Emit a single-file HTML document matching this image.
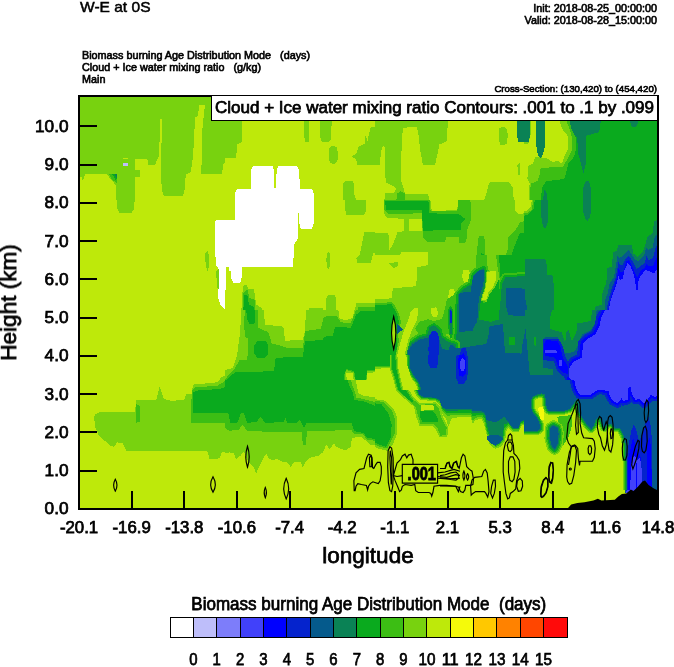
<!DOCTYPE html>
<html><head><meta charset="utf-8"><title>W-E at 0S</title>
<style>
html,body{margin:0;padding:0;background:#fff;}
body{width:674px;height:667px;overflow:hidden;}
svg{display:block;font-family:"Liberation Sans",sans-serif;fill:#000;}
text{stroke:#000;stroke-width:0.75px;filter:url(#gs);}
text.s{stroke-width:0.62px;}
</style></head><body>
<svg width="674" height="667" viewBox="0 0 674 667">
<defs>
<filter id="gs" x="-5%" y="-20%" width="110%" height="140%"><feColorMatrix type="saturate" values="0"/></filter>
<clipPath id="plot"><rect x="79" y="96" width="579" height="413"/></clipPath>
<clipPath id="t1"><rect x="75.0" y="90.0" width="150.0" height="110.0"/></clipPath>
<clipPath id="t2"><rect x="225.0" y="90.0" width="150.0" height="110.0"/></clipPath>
<clipPath id="t3"><rect x="375.0" y="90.0" width="150.0" height="110.0"/></clipPath>
<clipPath id="t4"><rect x="524.0" y="90.0" width="150.0" height="110.0"/></clipPath>
<clipPath id="t5"><rect x="75.0" y="200.0" width="150.0" height="110.0"/></clipPath>
<clipPath id="t6"><rect x="225.0" y="200.0" width="150.0" height="110.0"/></clipPath>
<clipPath id="t7"><rect x="375.0" y="200.0" width="150.0" height="110.0"/></clipPath>
<clipPath id="t8"><rect x="524.0" y="200.0" width="150.0" height="110.0"/></clipPath>
<clipPath id="t9"><rect x="75.0" y="310.0" width="150.0" height="110.0"/></clipPath>
<clipPath id="t10"><rect x="225.0" y="310.0" width="150.0" height="110.0"/></clipPath>
<clipPath id="t11"><rect x="375.0" y="310.0" width="150.0" height="110.0"/></clipPath>
<clipPath id="t12"><rect x="524.0" y="310.0" width="150.0" height="110.0"/></clipPath>
<clipPath id="t13"><rect x="75.0" y="420.0" width="150.0" height="110.0"/></clipPath>
<clipPath id="t14"><rect x="225.0" y="420.0" width="150.0" height="110.0"/></clipPath>
<clipPath id="t15"><rect x="375.0" y="420.0" width="150.0" height="110.0"/></clipPath>
<clipPath id="t16"><rect x="524.0" y="420.0" width="150.0" height="110.0"/></clipPath>
<clipPath id="t17"><rect x="225.0" y="380.0" width="150.0" height="110.0"/></clipPath>
<clipPath id="t18"><rect x="375.0" y="380.0" width="150.0" height="110.0"/></clipPath>
<clipPath id="t19"><rect x="524.0" y="380.0" width="150.0" height="110.0"/></clipPath>
<clipPath id="t20"><rect x="375.0" y="255.0" width="150.0" height="110.0"/></clipPath>
<clipPath id="t21"><rect x="375.0" y="355.0" width="150.0" height="35.0"/></clipPath>
<clipPath id="t22"><rect x="75.0" y="365.0" width="150.0" height="110.0"/></clipPath>
<clipPath id="t23"><rect x="515.0" y="320.0" width="20.0" height="60.0"/></clipPath>
</defs>
<rect width="674" height="667" fill="#fff"/>
<g clip-path="url(#plot)" shape-rendering="crispEdges">
<g clip-path="url(#t1)">
<rect x="75.0" y="90.0" width="151.0" height="111.0" fill="#bee90a"/>
<polygon points="68.3,83.3 231.7,83.3 231.7,159.0 223.7,163.4 221.9,173.5 201.4,173.5 201.9,134.5 204.1,112.3 205.2,104.5 199.6,104.5 197.4,116.7 195.2,116.7 193.0,156.8 190.7,172.3 185.6,174.6 185.2,187.9 182.9,196.4 164.0,196.4 161.8,190.1 160.7,165.7 161.8,134.5 161.8,118.9 160.0,118.9 159.6,141.2 158.5,156.8 155.1,164.6 148.4,164.6 147.3,159.4 135.1,159.4 135.1,170.1 139.5,170.1 139.5,176.8 135.1,176.8 135.1,206.6 116.2,206.6 116.2,185.7 106.2,173.5 85.0,174.1 82.8,181.7 81.7,176.8 68.3,176.8" fill="#78d20f"/>
<polygon points="108.4,173.5 117.3,173.5 116.8,183.5 111.7,179.0" fill="#3cbe14"/>
<polygon points="111.7,173.5 116.8,173.5 116.4,181.2" fill="#0aaa1e"/>
<polygon points="113.9,173.5 116.8,173.5 116.6,177.9" fill="#0a8255"/>
<polygon points="122.8,162.8 128.0,162.8 128.0,165.9 122.8,165.9" fill="#bebefa"/>
<polygon points="122.8,157.9 128.0,157.9 128.0,158.8 122.8,158.8" fill="#bee90a"/>
</g>
<g clip-path="url(#t2)">
<rect x="225.0" y="90.0" width="151.0" height="111.0" fill="#bee90a"/>
<polygon points="218.3,83.3 241.7,83.3 241.7,142.3 237.2,144.5 236.1,157.9 218.3,157.9" fill="#78d20f"/>
<polygon points="303.3,112.3 309.6,112.3 309.1,142.3 304.7,142.3" fill="#78d20f"/>
<polygon points="319.6,112.3 332.3,112.3 330.7,140.1 328.5,142.3 321.8,142.3 319.6,134.5" fill="#78d20f"/>
<polygon points="328.5,149.0 331.8,145.6 336.3,146.8 338.1,152.3 337.4,161.2 335.2,163.9 330.7,163.4 328.5,159.0" fill="#78d20f"/>
<polygon points="381.7,126.7 370.8,126.7 367.4,141.2 365.7,134.5 364.8,143.4 358.5,146.8 356.3,153.4 351.4,156.8 356.3,159.0 356.8,164.6 381.7,164.6" fill="#78d20f"/>
<polygon points="343.0,206.6 343.0,183.5 346.3,180.8 352.3,180.8 354.1,183.5 354.5,194.6 358.5,206.6" fill="#78d20f"/>
<polygon points="235.0,206.6 235.0,192.4 237.2,189.0 251.3,189.0 251.3,169.0 252.8,166.3 272.8,166.3 274.0,170.1 274.4,187.9 276.2,187.9 276.6,170.1 278.0,166.3 297.3,166.3 298.9,170.1 300.2,189.0 311.8,189.0 314.0,193.5 314.0,206.6" fill="#ffffff"/>
</g>
<g clip-path="url(#t3)">
<rect x="375.0" y="90.0" width="151.0" height="111.0" fill="#bee90a"/>
<polygon points="368.3,83.3 448.0,83.3 448.0,120.7 446.7,141.2 439.5,144.5 436.9,156.8 435.1,164.6 422.8,164.6 420.6,152.3 418.4,134.5 416.8,126.7 402.8,127.8 401.7,145.6 400.6,179.0 403.5,187.9 405.0,193.5 428.4,194.2 429.5,206.6 383.9,206.6 385.0,193.5 395.0,192.4 396.1,187.9 386.1,182.4 385.0,174.6 385.2,147.9 383.9,145.6 381.7,148.3 380.6,156.8 379.5,164.6 368.3,164.6" fill="#78d20f"/>
<polygon points="498.5,128.9 501.9,126.7 506.3,127.8 507.9,134.5 506.8,143.4 504.1,145.6 500.1,144.5 498.5,139.0" fill="#78d20f"/>
<polygon points="481.8,206.6 486.3,193.5 488.5,184.6 490.7,181.7 508.5,181.7 513.0,187.9 514.1,206.6" fill="#78d20f"/>
<polygon points="517.4,164.6 519.7,163.4 520.1,174.6 517.9,175.7" fill="#78d20f"/>
<polygon points="396.1,206.6 396.8,193.5 400.6,191.3 405.0,193.5 405.7,206.6" fill="#3cbe14"/>
<polygon points="516.5,112.3 531.7,112.3 531.7,142.3 518.5,142.3 516.5,134.5" fill="#0a8255"/>
</g>
<g clip-path="url(#t4)">
<rect x="524.0" y="90.0" width="151.0" height="111.0" fill="#0aaa1e"/>
<polygon points="517.3,83.3 569.6,83.3 569.6,120.7 571.8,128.9 575.6,136.7 576.3,147.9 574.1,156.8 568.5,163.4 566.3,172.3 564.1,179.0 546.3,181.2 541.8,187.9 540.7,206.6 517.3,206.6" fill="#3cbe14"/>
<polygon points="517.3,83.3 566.3,83.3 566.3,120.7 569.6,128.9 571.8,136.7 571.8,150.1 567.4,159.0 562.9,166.8 540.7,167.9 539.6,174.6 537.4,181.2 530.7,183.5 529.6,206.6 517.3,206.6" fill="#78d20f"/>
<polygon points="530.7,112.3 559.6,112.3 559.6,122.3 562.9,130.1 567.4,134.5 568.5,147.9 565.2,154.5 561.8,163.4 557.4,160.8 552.9,162.3 546.3,157.9 535.1,156.8 532.9,163.4 528.5,165.7 527.3,179.0 529.6,183.5 528.5,206.6 517.3,206.6 517.3,145.6 528.5,143.4 530.7,134.5" fill="#bee90a"/>
<polygon points="517.3,112.3 530.2,112.3 530.2,134.5 528.5,142.3 517.3,142.3" fill="#0a8255"/>
<polygon points="535.6,112.3 545.1,112.3 544.7,147.9 541.8,156.8 540.0,157.9 537.8,154.5 536.2,145.6" fill="#0a8255"/>
<polygon points="569.6,112.3 600.8,112.3 600.8,120.7 599.2,132.3 586.3,135.6 585.9,163.4 583.6,173.5 581.4,165.7 578.5,154.5 577.0,137.8 574.1,134.5 570.7,127.8" fill="#0a8255"/>
<polygon points="629.7,112.3 638.6,112.3 638.6,120.7 636.4,126.7 631.9,126.7 629.7,120.7" fill="#0a8255"/>
<polygon points="582.3,206.6 583.0,187.9 585.9,181.2 589.0,180.8 590.8,187.9 591.9,206.6" fill="#0a8255"/>
<polygon points="541.8,206.6 544.5,190.1 546.3,191.3 548.5,206.6" fill="#0a8255"/>
</g>
<g clip-path="url(#t5)">
<rect x="75.0" y="200.0" width="151.0" height="111.0" fill="#bee90a"/>
<polygon points="116.2,193.3 135.1,193.3 134.0,208.9 131.8,212.7 119.5,212.7 117.3,208.9" fill="#78d20f"/>
<polygon points="205.2,253.4 207.4,250.7 209.2,255.6 209.2,266.8 207.4,270.8 205.6,264.5" fill="#78d20f"/>
<polygon points="216.3,271.2 218.5,269.4 218.5,289.0 216.8,286.8" fill="#78d20f"/>
<polygon points="215.2,221.1 217.4,219.6 231.7,219.6 231.7,316.6 220.8,305.7 218.1,297.9 218.5,289.0 218.5,269.0 215.7,264.5 215.2,244.5" fill="#ffffff"/>
</g>
<g clip-path="url(#t6)">
<rect x="225.0" y="200.0" width="151.0" height="111.0" fill="#bee90a"/>
<polygon points="345.2,193.3 366.3,193.3 366.3,210.0 364.1,214.5 346.3,214.5 345.2,208.9" fill="#78d20f"/>
<polygon points="364.1,232.3 381.7,232.3 381.7,249.0 373.0,253.4 370.8,263.4 357.4,263.4 356.3,257.9 359.6,254.5 361.9,244.5" fill="#78d20f"/>
<polygon points="326.3,259.0 327.8,251.2 329.6,253.4 329.6,266.8 328.0,269.4 326.7,264.5" fill="#78d20f"/>
<polygon points="325.1,316.6 326.3,297.9 328.5,295.3 335.2,295.3 336.3,300.1 335.8,316.6" fill="#78d20f"/>
<polygon points="353.0,316.6 356.3,303.5 381.7,302.8 381.7,316.6" fill="#78d20f"/>
<polygon points="357.4,316.6 358.5,306.8 381.7,306.4 381.7,316.6" fill="#3cbe14"/>
<polygon points="241.0,316.6 242.8,286.8 246.1,284.1 248.4,289.0 253.9,289.0 256.2,304.6 261.7,307.9 261.7,316.6" fill="#78d20f"/>
<polygon points="242.4,316.6 243.2,293.5 247.3,289.0 249.5,297.9 255.0,300.1 255.7,316.6" fill="#3cbe14"/>
<polygon points="243.2,316.6 243.9,295.7 247.3,294.6 249.0,304.6 253.9,306.8 253.9,316.6" fill="#0aaa1e"/>
<polygon points="307.3,316.6 309.6,307.9 322.9,307.9 325.1,316.6" fill="#78d20f"/>
<polygon points="218.3,219.6 235.0,219.6 235.0,193.3 314.0,193.3 314.0,222.3 311.8,228.5 300.7,228.5 298.9,222.3 298.4,210.0 298.0,237.8 294.4,244.5 292.9,266.8 241.7,266.8 241.7,277.9 240.1,282.8 233.5,282.8 231.2,277.9 231.2,271.2 229.0,270.8 229.0,266.8 226.1,266.8 226.1,289.0 218.3,304.6" fill="#ffffff"/>
</g>
<g clip-path="url(#t7)">
<rect x="375.0" y="200.0" width="151.0" height="111.0" fill="#78d20f"/>
<polygon points="368.3,193.3 383.9,193.3 383.9,213.4 387.2,217.8 403.9,218.9 403.9,231.2 397.3,232.3 393.9,242.3 389.5,250.1 388.4,233.4 368.3,232.3" fill="#bee90a"/>
<polygon points="408.8,218.9 421.7,218.9 421.7,231.2 408.8,231.2" fill="#bee90a"/>
<polygon points="429.5,193.3 458.5,193.3 457.3,210.0 431.8,211.1" fill="#bee90a"/>
<polygon points="514.1,193.3 531.7,193.3 531.7,211.1 519.7,214.5 515.2,211.1" fill="#bee90a"/>
<polygon points="401.7,251.6 427.3,251.6 428.9,255.6 428.4,266.8 417.3,269.4 416.2,287.2 392.8,289.0 391.7,299.0 368.3,300.1 368.3,263.4 388.4,263.4 393.9,269.4 398.4,266.8 399.9,255.6" fill="#bee90a"/>
<polygon points="462.9,271.2 468.5,270.1 470.7,275.7 469.6,282.3 464.0,283.5 462.2,277.9" fill="#bee90a"/>
<polygon points="449.6,290.1 454.0,289.0 455.6,295.7 454.0,304.6 449.6,306.8 448.0,297.9" fill="#bee90a"/>
<polygon points="486.3,271.2 496.3,270.8 497.0,280.1 493.0,289.0 488.5,293.5 486.3,301.3 479.6,302.4 478.5,295.7 484.1,292.4 485.2,284.6" fill="#bee90a"/>
<polygon points="415.1,307.9 418.4,307.9 418.4,316.6 415.1,316.6" fill="#bee90a"/>
<polygon points="433.3,307.5 437.3,307.5 437.8,316.6 433.3,316.6" fill="#bee90a"/>
<polygon points="383.9,193.3 429.5,193.3 430.6,211.1 457.3,210.7 459.1,193.3 468.5,193.3 471.1,204.5 471.1,220.0 467.4,228.9 466.2,242.3 459.6,243.4 458.5,236.7 446.2,236.7 445.1,242.3 428.4,242.3 422.8,237.8 422.2,217.8 421.7,213.4 388.4,213.8 384.3,210.0" fill="#3cbe14"/>
<polygon points="477.8,238.9 479.6,235.6 484.1,236.1 485.2,244.5 485.2,266.8 484.1,284.6 479.6,293.5 477.8,302.4 477.4,316.6 456.2,316.6 456.2,289.0 457.8,275.7 464.0,284.6 470.7,275.7 471.8,260.1 476.3,259.0 477.4,249.0" fill="#3cbe14"/>
<polygon points="531.7,218.9 519.7,222.3 516.3,228.9 508.5,236.7 507.4,251.2 504.1,259.0 499.6,260.1 498.5,273.4 497.0,289.0 490.7,293.5 487.4,316.6 531.7,316.6" fill="#3cbe14"/>
<polygon points="390.6,316.6 392.8,300.1 397.3,299.0 399.0,316.6" fill="#3cbe14"/>
<polygon points="444.0,316.6 445.8,297.9 448.4,304.6 451.8,316.6" fill="#3cbe14"/>
<polygon points="385.0,201.1 428.4,201.1 429.5,213.4 458.5,213.8 460.7,215.6 465.1,218.9 460.7,224.5 460.7,230.0 422.8,230.7 422.2,210.0 386.1,210.0" fill="#0aaa1e"/>
<polygon points="477.8,264.5 481.4,253.4 484.1,254.5 484.5,273.4 482.9,286.8 479.2,295.7 477.8,316.6 457.3,316.6 457.8,286.8 460.7,285.7 464.0,289.0 469.6,287.9 471.1,277.9 472.9,266.8" fill="#0aaa1e"/>
<polygon points="531.7,232.3 519.7,233.4 515.2,244.5 511.9,253.4 508.5,264.5 503.0,266.8 501.9,277.9 500.7,289.0 495.2,294.6 490.7,316.6 531.7,316.6" fill="#0aaa1e"/>
<polygon points="479.2,264.5 483.6,263.4 484.1,273.4 481.8,289.0 478.5,297.9 477.8,316.6 457.8,316.6 458.5,289.0 462.9,291.2 470.7,290.1 472.9,275.7 476.3,269.0" fill="#0a8255"/>
<polygon points="531.7,275.7 513.0,275.7 506.3,281.2 501.9,289.0 500.7,316.6 531.7,316.6" fill="#0a8255"/>
<polygon points="480.7,271.2 483.6,271.2 482.9,286.8 479.2,297.9 477.8,316.6 457.8,316.6 458.5,294.6 470.7,293.5 474.0,277.9 477.4,273.4" fill="#055a8c"/>
<polygon points="531.7,289.0 508.5,289.0 505.9,295.7 505.2,316.6 531.7,316.6" fill="#055a8c"/>
</g>
<g clip-path="url(#t8)">
<rect x="524.0" y="200.0" width="151.0" height="111.0" fill="#0aaa1e"/>
<polygon points="517.3,193.3 535.1,193.3 534.0,208.9 528.5,214.5 517.3,217.8" fill="#3cbe14"/>
<polygon points="517.3,193.3 534.0,193.3 531.8,210.0 526.2,213.4 517.3,213.4" fill="#78d20f"/>
<polygon points="517.3,193.3 532.9,193.3 530.7,206.7 526.2,211.1 517.3,211.1" fill="#bee90a"/>
<polygon points="540.7,193.3 548.5,193.3 548.0,222.3 545.1,228.9 542.9,226.7 541.4,217.8" fill="#0a8255"/>
<polygon points="582.3,193.3 591.9,193.3 590.3,216.7 587.4,221.1 585.2,218.9 583.0,211.1" fill="#0a8255"/>
<polygon points="517.3,259.0 545.1,259.0 547.4,266.8 547.4,274.6 552.9,275.7 554.0,289.0 554.0,316.6 517.3,316.6" fill="#0a8255"/>
<polygon points="517.3,295.7 526.2,300.1 527.3,316.6 517.3,316.6" fill="#055a8c"/>
<polygon points="657.1,220.0 654.2,221.1 652.6,233.4 647.5,236.7 645.3,244.5 643.1,251.2 637.5,256.8 633.1,253.4 631.9,244.5 618.6,244.5 616.4,251.2 613.0,252.3 611.9,266.8 607.5,267.9 606.3,282.3 602.3,293.5 601.9,304.6 595.2,306.8 594.1,316.6 657.1,316.6" fill="#0a8255"/>
<polygon points="657.1,233.4 654.2,238.9 652.6,247.8 648.2,250.1 646.0,247.8 644.2,255.6 638.6,261.2 635.3,260.1 631.9,254.5 628.6,250.1 625.3,253.4 623.0,255.6 619.7,257.9 617.5,255.6 615.7,266.8 614.1,276.8 609.7,283.5 607.5,293.5 605.2,300.1 604.1,316.6 657.1,316.6" fill="#055a8c"/>
<polygon points="657.1,244.5 655.3,249.0 653.1,257.9 648.6,260.1 646.0,255.6 645.3,262.3 639.7,266.8 636.4,269.0 633.1,262.3 628.6,255.6 625.3,259.0 623.0,264.5 619.7,264.5 618.6,261.2 617.0,271.2 615.2,279.0 611.9,287.9 609.7,295.7 607.5,304.6 606.8,316.6 657.1,316.6" fill="#0523cd"/>
<polygon points="657.1,256.8 654.9,261.2 653.1,265.7 648.6,265.7 646.0,263.4 645.3,266.8 640.2,271.7 637.1,277.9 633.5,269.0 629.0,260.1 626.4,261.2 623.7,271.2 620.1,272.3 618.8,267.9 617.0,277.9 614.1,286.8 611.2,295.7 608.6,306.8 608.1,316.6 657.1,316.6" fill="#0000ff"/>
<polygon points="657.1,269.0 654.2,273.4 649.7,271.2 645.3,270.1 640.8,275.7 638.6,280.1 637.1,293.5 634.2,275.7 630.4,265.7 627.5,263.4 624.1,271.2 623.0,279.0 619.7,280.1 618.6,275.7 616.4,284.6 613.0,293.5 609.7,303.5 608.6,316.6 657.1,316.6" fill="#4141fa"/>
</g>
<g clip-path="url(#t9)">
<rect x="75.0" y="310.0" width="151.0" height="111.0" fill="#bee90a"/>
<polygon points="93.9,426.6 94.6,414.6 100.6,411.9 135.1,411.9 136.2,400.1 156.2,400.1 159.6,386.8 164.0,399.0 170.7,400.8 184.1,400.1 186.3,394.1 191.8,394.1 193.0,384.6 217.4,382.3 221.9,376.8 231.7,372.3 231.7,426.6" fill="#78d20f"/>
<polygon points="190.3,426.6 191.2,407.9 191.8,391.2 195.2,387.4 217.4,385.7 231.7,376.8 231.7,426.6" fill="#3cbe14"/>
<polygon points="193.0,412.8 193.0,392.3 196.3,390.6 219.7,389.0 231.7,384.6 231.7,412.8" fill="#0aaa1e"/>
</g>
<g clip-path="url(#t10)">
<rect x="225.0" y="310.0" width="151.0" height="111.0" fill="#78d20f"/>
<polygon points="218.3,303.3 241.7,303.3 240.1,332.3 237.2,354.5 232.8,367.9 218.3,372.3" fill="#bee90a"/>
<polygon points="262.8,303.3 306.2,303.3 305.1,330.0 302.9,340.0 285.1,340.7 283.3,326.7 265.1,324.5" fill="#bee90a"/>
<polygon points="337.4,303.3 355.2,303.3 353.0,317.8 346.3,320.0 339.6,318.9" fill="#bee90a"/>
<polygon points="346.3,373.4 353.0,373.4 354.1,385.7 351.9,389.0 347.0,386.8" fill="#bee90a"/>
<polygon points="367.4,373.4 381.7,371.2 381.7,396.8 367.4,395.7 355.2,392.3 356.3,390.1 365.2,385.7 367.4,381.2" fill="#bee90a"/>
<polygon points="218.3,386.8 227.2,376.8 233.9,370.1 239.5,360.1 247.3,360.1 248.4,338.9 245.0,336.7 243.9,321.1 246.1,303.3 257.3,303.3 258.4,327.8 268.4,332.3 271.7,343.4 284.0,346.7 286.2,347.8 302.9,347.8 305.1,331.1 320.7,328.9 324.0,316.7 336.3,315.6 340.7,322.2 350.7,323.4 355.2,312.2 358.5,303.3 381.7,303.3 381.7,370.1 367.4,371.2 366.3,381.2 363.0,384.6 355.2,384.6 354.1,372.3 346.3,370.1 344.7,374.5 345.2,386.8 351.9,391.2 354.1,397.9 371.9,402.4 381.7,407.9 381.7,426.6 218.3,426.6" fill="#3cbe14"/>
<polygon points="218.3,426.6 218.3,387.9 228.3,377.9 235.0,372.3 274.0,371.2 275.7,357.8 302.9,356.7 305.1,341.2 322.9,340.0 324.0,336.7 332.9,335.6 335.2,326.7 350.7,327.8 356.3,314.5 360.8,311.1 381.7,311.1 381.7,369.0 367.4,370.1 365.2,381.2 356.3,383.4 354.1,371.2 346.3,369.0 344.1,375.7 344.5,387.9 351.9,392.3 354.1,399.0 371.9,403.5 381.7,409.0 381.7,426.6" fill="#0aaa1e"/>
<polygon points="246.1,303.3 255.0,303.3 255.0,323.4 249.5,324.5 246.8,318.9" fill="#0aaa1e"/>
<polygon points="253.9,345.6 257.3,341.2 266.2,341.2 268.4,345.6 268.4,353.4 265.1,357.8 257.3,357.8 253.9,353.4" fill="#0aaa1e"/>
<polygon points="238.4,426.6 241.7,412.8 246.1,413.5 247.3,426.6" fill="#3cbe14"/>
<polygon points="258.4,426.6 260.6,416.8 265.1,426.6" fill="#3cbe14"/>
</g>
<g clip-path="url(#t11)">
<rect x="375.0" y="310.0" width="151.0" height="111.0" fill="#055a8c"/>
<polygon points="437.3,303.3 531.7,303.3 531.7,354.5 519.7,355.6 514.1,352.3 506.3,347.8 504.1,332.3 503.0,324.5 490.7,324.5 489.6,338.9 486.3,341.2 462.9,341.2 460.7,346.7 455.1,352.3 441.8,353.4 438.4,345.6 438.4,332.3 435.1,327.8 430.6,328.9 428.4,332.3 417.3,334.5 410.6,341.2 408.4,350.1 401.7,350.1 401.7,303.3" fill="#0a8255"/>
<polygon points="458.5,303.3 472.9,303.3 471.8,322.2 459.6,324.5" fill="#055a8c"/>
<polygon points="506.3,303.3 531.7,303.3 531.7,315.6 508.5,315.6" fill="#055a8c"/>
<polygon points="417.3,323.4 419.5,318.9 428.4,321.1 432.9,325.6 439.5,326.7 446.2,321.1 450.7,303.3 458.5,303.3 458.5,323.4 457.3,336.7 451.8,337.8 449.6,332.3 441.8,332.3 439.5,330.0 435.1,327.4 429.5,328.2 427.3,332.3 417.3,333.4 415.1,330.0" fill="#0aaa1e"/>
<polygon points="507.4,336.7 515.2,336.7 515.2,345.6 507.4,345.6" fill="#0aaa1e"/>
<polygon points="368.3,303.3 402.8,303.3 400.6,323.4 398.4,332.3 403.9,334.5 405.0,343.4 398.4,347.8 397.3,354.5 400.6,363.4 403.9,376.8 405.0,390.1 401.7,395.7 396.1,385.7 391.7,370.1 368.3,366.8" fill="#0aaa1e"/>
<polygon points="400.6,303.3 422.8,303.3 421.7,322.2 417.3,332.3 415.1,342.3 412.8,348.9 411.7,356.7 413.9,367.9 417.3,383.4 420.6,396.8 441.8,397.9 445.1,410.1 531.7,410.6 531.7,426.6 368.3,426.6 368.3,366.8 391.7,370.1 397.3,354.5 399.5,334.5 397.3,330.0 398.4,318.9" fill="#0aaa1e"/>
<polygon points="401.7,303.3 420.6,303.3 419.5,321.6 415.1,331.8 412.8,341.6 410.6,348.3 409.5,356.7 411.7,367.9 415.1,383.4 418.4,397.9 439.5,399.0 442.9,411.3 486.3,411.7 486.3,426.6 368.3,426.6 368.3,368.3 391.7,371.2 397.3,351.2 401.7,345.6 402.2,332.3 399.0,330.0 399.9,318.9" fill="#3cbe14"/>
<polygon points="403.9,303.3 418.8,303.3 417.7,321.1 413.3,331.4 411.1,341.2 408.8,347.8 407.7,356.7 409.9,367.9 413.3,383.4 416.6,397.2 437.3,398.6 440.7,409.0 441.8,412.4 485.2,412.8 485.2,426.6 368.3,426.6 368.3,370.1 391.0,372.3 397.3,350.5 402.8,345.6 403.5,333.4 400.4,330.0 401.3,318.9" fill="#78d20f"/>
<polygon points="406.2,303.3 417.3,303.3 416.2,321.1 411.7,331.1 409.5,341.2 407.3,347.8 406.2,356.7 408.4,367.9 411.7,383.4 415.1,396.8 412.8,403.5 411.7,426.6 368.3,426.6 368.3,372.3 390.6,372.3 395.0,385.7 399.5,396.8 405.0,394.6 406.2,385.7 402.8,372.3 398.4,359.0 397.3,350.1 403.9,345.6 405.0,334.5 401.7,330.0 402.8,318.9" fill="#bee90a"/>
<polygon points="419.5,400.1 435.1,399.5 437.3,405.7 440.0,409.0 440.0,426.6 419.5,426.6" fill="#bee90a"/>
<polygon points="441.8,414.2 484.1,414.2 484.1,426.6 441.8,426.6" fill="#bee90a"/>
<polygon points="410.6,407.9 413.9,399.0 419.5,397.9 419.5,405.7 417.3,412.4 412.8,412.4" fill="#0aaa1e"/>
<polygon points="486.3,412.4 531.7,411.9 531.7,426.6 486.3,426.6" fill="#0a8255"/>
<polygon points="428.4,338.9 430.6,332.3 436.2,332.3 438.4,338.9 438.4,363.4 436.2,368.3 430.6,368.3 428.4,361.2" fill="#0523cd"/>
<polygon points="455.6,359.0 458.5,351.2 462.9,347.8 466.2,351.2 468.0,359.0 467.4,379.0 464.0,383.4 458.5,383.4 455.6,376.8" fill="#0523cd"/>
<polygon points="457.8,361.2 460.0,354.5 463.6,353.4 466.2,360.1 465.8,373.4 462.9,376.8 459.1,375.7" fill="#0000ff"/>
<polygon points="459.6,362.3 461.8,357.8 464.5,359.0 465.1,366.8 463.6,371.2 460.7,370.5" fill="#4141fa"/>
<polygon points="449.1,313.3 451.8,311.1 452.9,318.9 451.8,324.5 449.6,322.2" fill="#0523cd"/>
<polygon points="397.3,323.4 402.8,330.0 397.3,333.4" fill="#055a8c"/>
</g>
<g clip-path="url(#t12)">
<rect x="524.0" y="310.0" width="151.0" height="111.0" fill="#055a8c"/>
<polygon points="517.3,303.3 597.4,303.3 595.2,323.4 590.8,330.0 581.9,334.5 578.5,343.4 575.2,351.2 568.5,353.4 564.1,352.3 560.7,343.4 557.4,336.7 545.1,336.7 542.9,343.4 542.9,367.9 552.9,369.0 552.9,374.5 517.3,375.7" fill="#0a8255"/>
<polygon points="554.0,303.3 593.0,303.3 590.8,321.1 577.4,323.4 576.3,332.3 571.8,341.2 568.5,330.0 566.3,332.3 565.2,343.4 561.8,332.3 549.6,328.9 549.6,318.9" fill="#0aaa1e"/>
<polygon points="534.0,336.7 536.2,337.8 535.6,345.6 534.0,344.5" fill="#0aaa1e"/>
<polygon points="608.6,303.3 657.1,303.3 657.1,392.3 653.1,395.7 649.7,399.0 645.3,400.1 639.7,394.6 635.3,392.3 633.1,385.7 628.6,384.6 627.5,399.0 623.0,403.5 619.7,397.9 616.4,401.2 611.9,399.0 609.7,391.2 599.7,390.1 595.2,389.0 588.5,393.5 578.5,393.5 576.3,381.2 569.6,379.0 568.5,369.0 574.1,361.2 581.9,357.8 583.0,343.4 587.4,338.9 595.2,334.5 599.7,325.6 600.8,318.9" fill="#0523cd" stroke="#0523cd" stroke-width="9.79" stroke-linejoin="round"/>
<polygon points="608.6,303.3 657.1,303.3 657.1,392.3 653.1,395.7 649.7,399.0 645.3,400.1 639.7,394.6 635.3,392.3 633.1,385.7 628.6,384.6 627.5,399.0 623.0,403.5 619.7,397.9 616.4,401.2 611.9,399.0 609.7,391.2 599.7,390.1 595.2,389.0 588.5,393.5 578.5,393.5 576.3,381.2 569.6,379.0 568.5,369.0 574.1,361.2 581.9,357.8 583.0,343.4 587.4,338.9 595.2,334.5 599.7,325.6 600.8,318.9" fill="#0000ff" stroke="#0000ff" stroke-width="4.90" stroke-linejoin="round"/>
<polygon points="608.6,303.3 657.1,303.3 657.1,392.3 653.1,395.7 649.7,399.0 645.3,400.1 639.7,394.6 635.3,392.3 633.1,385.7 628.6,384.6 627.5,399.0 623.0,403.5 619.7,397.9 616.4,401.2 611.9,399.0 609.7,391.2 599.7,390.1 595.2,389.0 588.5,393.5 578.5,393.5 576.3,381.2 569.6,379.0 568.5,369.0 574.1,361.2 581.9,357.8 583.0,343.4 587.4,338.9 595.2,334.5 599.7,325.6 600.8,318.9" fill="#4141fa"/>
<polygon points="542.9,338.9 558.5,338.9 562.9,346.7 565.2,356.7 568.5,363.4 568.5,376.8 561.8,375.7 557.4,371.2 554.0,361.2 542.9,360.1" fill="#0523cd"/>
<polygon points="544.0,343.4 546.3,340.0 557.4,341.2 560.7,347.8 562.9,357.8 567.4,365.6 568.5,374.5 562.9,372.3 558.5,367.9 555.2,357.8 545.1,355.6 543.6,350.1" fill="#0000ff"/>
<polygon points="545.1,350.1 556.3,350.1 557.4,353.4 545.1,353.4" fill="#4141fa"/>
<polygon points="558.5,360.1 561.8,360.1 561.8,365.6 559.2,365.6" fill="#4141fa"/>
<polygon points="657.1,396.8 657.1,426.6 617.5,426.6 618.6,407.9 621.9,405.7 628.6,403.5 630.8,390.1 635.3,394.6 645.3,402.4 652.0,401.2" fill="#0523cd"/>
<polygon points="528.5,403.5 532.9,394.6 544.0,393.5 547.4,399.0 548.5,407.9 552.9,411.3 571.8,410.1 573.0,426.6 530.7,426.6" fill="#0aaa1e"/>
<polygon points="530.2,404.6 533.6,396.4 542.9,395.0 546.3,399.0 547.4,407.9 551.2,412.8 555.2,412.4 571.8,411.3 571.8,426.6 532.9,426.6 531.1,412.4" fill="#78d20f"/>
<polygon points="530.7,403.5 534.0,396.8 541.8,395.7 545.1,399.0 546.3,407.9 548.5,413.5 552.9,426.6 535.1,426.6 531.8,412.4" fill="#bee90a"/>
<polygon points="534.0,405.7 540.7,404.6 542.9,410.1 546.3,426.6 539.6,426.6 535.1,412.4" fill="#f5fa0a"/>
</g>
<g clip-path="url(#t13)">
<rect x="75.0" y="420.0" width="151.0" height="111.0" fill="#bee90a"/>
<polygon points="93.9,413.3 231.7,413.3 231.7,451.2 221.9,452.3 219.7,457.8 217.4,458.9 209.6,458.9 207.4,451.2 126.2,450.7 122.8,443.4 117.3,442.3 113.9,446.7 110.6,445.6 103.9,440.0 98.4,434.5 95.0,426.7" fill="#78d20f"/>
<polygon points="190.7,413.3 231.7,413.3 231.7,422.7 190.7,422.7" fill="#3cbe14"/>
</g>
<g clip-path="url(#t14)">
<rect x="225.0" y="420.0" width="151.0" height="111.0" fill="#bee90a"/>
<polygon points="218.3,413.3 381.7,413.3 381.7,445.6 369.7,444.5 365.2,440.0 360.8,436.7 351.9,437.8 350.7,446.7 346.3,450.0 340.7,448.9 336.3,447.8 334.1,443.4 329.6,448.9 326.3,444.5 322.9,452.3 318.5,455.6 309.6,457.8 305.1,462.3 302.9,467.8 300.7,462.3 294.0,462.3 290.7,466.7 287.3,462.3 280.6,461.2 277.3,458.9 271.7,460.1 268.4,457.8 266.2,453.4 262.8,458.9 258.4,467.8 256.2,473.4 252.8,467.8 247.3,460.1 243.9,451.2 240.6,455.6 236.1,458.9 233.9,453.4 229.5,452.3 218.3,454.5" fill="#78d20f"/>
<polygon points="218.3,413.3 381.7,413.3 381.7,441.1 367.4,440.0 363.0,434.5 353.0,433.4 351.4,430.0 307.3,431.1 305.1,444.5 302.9,445.6 301.8,432.2 247.3,431.1 238.4,430.0 229.5,431.1 218.3,426.7" fill="#3cbe14"/>
<polygon points="218.3,413.3 228.3,413.3 227.2,423.3 218.3,422.7" fill="#0aaa1e"/>
<polygon points="231.7,413.3 298.4,413.3 298.4,422.2 287.3,422.7 286.2,425.6 284.0,422.2 265.1,422.7 258.4,424.5 238.4,422.7 233.9,423.3" fill="#0aaa1e"/>
<polygon points="298.4,413.3 381.7,413.3 381.7,439.6 367.4,438.2 363.4,432.9 354.1,431.1 351.9,423.3 298.4,423.3" fill="#0aaa1e"/>
</g>
<g clip-path="url(#t15)">
<rect x="375.0" y="420.0" width="151.0" height="111.0" fill="#bee90a"/>
<polygon points="368.3,413.3 397.3,413.3 396.1,431.1 393.9,440.0 388.4,448.9 382.8,453.4 377.2,447.8 368.3,450.0" fill="#78d20f"/>
<polygon points="368.3,413.3 394.6,413.3 393.5,431.1 390.6,440.0 386.1,446.7 382.1,451.2 377.2,444.9 368.3,447.2" fill="#3cbe14"/>
<polygon points="368.3,413.3 391.7,413.3 390.6,433.4 386.1,444.5 381.7,448.9 377.2,442.3 368.3,444.5" fill="#0aaa1e"/>
<polygon points="419.5,413.3 448.4,413.3 447.3,431.1 441.8,433.4 437.3,427.8 428.4,425.6 419.5,424.5" fill="#78d20f"/>
<polygon points="439.5,426.7 446.2,426.7 445.8,431.1 440.7,431.1" fill="#0aaa1e"/>
<polygon points="468.5,413.3 477.4,413.3 476.3,423.3 469.6,423.3" fill="#78d20f"/>
<polygon points="481.8,413.3 531.7,413.3 531.7,437.8 517.4,437.8 510.8,433.4 504.1,442.3 498.5,451.2 490.7,452.3 485.2,444.5 482.9,433.4" fill="#78d20f"/>
<polygon points="484.1,413.3 531.7,413.3 531.7,434.5 517.4,435.6 511.9,432.2 506.3,433.4 501.9,442.3 496.3,447.8 490.7,447.8 486.3,441.1 484.5,431.1" fill="#0aaa1e"/>
<polygon points="487.4,413.3 504.1,413.3 503.0,428.9 498.5,438.9 494.1,442.3 488.9,437.8 487.4,431.1" fill="#055a8c"/>
<polygon points="508.5,413.3 531.7,413.3 531.7,430.0 517.4,431.1 511.9,428.9" fill="#055a8c"/>
</g>
<g clip-path="url(#t16)">
<rect x="524.0" y="420.0" width="151.0" height="111.0" fill="#bee90a"/>
<polygon points="517.3,413.3 546.3,413.3 546.3,428.9 537.4,432.2 517.3,433.4" fill="#3cbe14"/>
<polygon points="546.3,413.3 564.1,413.3 561.8,433.4 558.5,444.5 554.0,450.0 550.7,444.5 547.4,431.1" fill="#78d20f"/>
<polygon points="550.7,413.3 560.7,413.3 558.5,433.4 555.2,442.3 552.5,433.4" fill="#055a8c"/>
<polygon points="579.6,413.3 597.4,413.3 594.8,430.0 589.7,437.8 584.1,430.0" fill="#0aaa1e"/>
<polygon points="581.9,413.3 595.2,413.3 593.0,428.9 589.7,435.6 585.2,428.9" fill="#055a8c"/>
<polygon points="594.1,413.3 624.1,413.3 621.9,433.4 616.4,428.9 613.0,435.6 609.7,426.7 606.3,433.4 601.9,426.7 598.6,431.1" fill="#0aaa1e"/>
<polygon points="595.2,413.3 621.9,413.3 619.7,431.1 616.4,426.7 613.0,433.4 609.7,424.5 606.3,431.1 601.9,424.5 598.6,428.9" fill="#055a8c"/>
<polygon points="619.7,413.3 657.1,413.3 657.1,493.4 625.3,493.4 626.4,464.5 625.3,442.3 621.9,431.1" fill="#055a8c"/>
<polygon points="627.5,433.4 630.8,428.9 635.3,435.6 639.7,442.3 644.2,453.4 648.6,442.3 650.9,433.4 653.1,437.8 653.1,493.4 625.9,493.4 626.8,453.4" fill="#0523cd"/>
<polygon points="628.6,453.4 631.9,442.3 635.3,453.4 639.7,464.5 643.1,475.6 645.3,464.5 647.5,453.4 649.7,464.5 652.0,480.1 652.0,491.2 626.4,493.4" fill="#4141fa"/>
</g>
<g clip-path="url(#t17)">
<rect x="225.0" y="380.0" width="151.0" height="111.0" fill="#bee90a"/>
<polygon points="218.3,373.3 381.7,373.3 381.7,445.7 369.7,444.5 365.2,440.1 360.8,436.8 351.9,437.9 350.7,446.8 346.3,450.1 340.7,449.0 336.3,446.8 334.1,443.4 329.6,449.0 326.3,444.5 322.9,452.3 318.5,455.7 309.6,457.9 305.1,462.3 302.9,467.9 300.7,462.3 294.0,462.3 290.7,466.8 287.3,462.3 280.6,461.2 277.3,459.0 271.7,460.1 268.4,457.9 266.2,453.4 262.8,459.0 258.4,467.9 256.2,473.5 253.9,467.9 247.3,460.1 243.9,451.2 240.6,455.7 236.1,459.0 233.9,453.4 229.5,452.3 218.3,454.6" fill="#78d20f"/>
<polygon points="218.3,373.3 381.7,373.3 381.7,441.2 367.4,440.1 363.0,434.5 353.0,433.4 351.4,430.1 307.3,431.2 305.6,444.5 302.9,445.7 301.8,432.3 247.3,431.2 242.8,424.5 238.4,430.1 229.5,430.7 218.3,424.5" fill="#3cbe14"/>
<polygon points="218.3,373.3 345.2,373.3 349.6,386.7 353.0,393.4 354.1,400.0 363.0,401.1 371.9,404.5 381.7,408.9 381.7,439.0 367.4,438.3 363.4,433.0 354.1,431.2 351.9,423.4 306.2,423.4 304.0,427.8 301.8,423.4 299.6,420.1 296.2,423.4 287.3,423.4 285.5,417.8 283.3,422.3 265.1,422.7 260.6,416.7 256.2,422.3 247.3,422.7 243.9,413.4 240.6,413.4 237.2,423.4 230.6,423.4 228.3,413.4 218.3,412.9" fill="#0aaa1e"/>
<polygon points="345.2,373.3 381.7,373.3 381.7,408.9 371.9,404.5 363.0,401.1 354.1,400.0 353.0,393.4 349.6,386.7" fill="#3cbe14"/>
<polygon points="349.6,373.3 381.7,373.3 381.7,403.4 370.8,401.1 363.0,398.9 356.3,397.8 355.2,392.2 352.3,385.6" fill="#78d20f"/>
<polygon points="354.1,373.3 381.7,373.3 381.7,397.8 369.7,396.7 363.0,395.6 358.5,393.4 357.4,388.9 356.3,383.3" fill="#bee90a"/>
</g>
<g clip-path="url(#t18)">
<rect x="375.0" y="380.0" width="151.0" height="111.0" fill="#bee90a"/>
<polygon points="368.3,398.9 383.9,400.0 393.9,408.9 397.3,417.8 397.3,433.4 392.8,444.5 388.4,451.2 379.5,449.0 368.3,444.5" fill="#78d20f"/>
<polygon points="368.3,400.5 382.8,401.8 391.7,410.0 395.0,418.9 394.6,433.4 390.6,442.3 387.2,448.5 379.9,446.8 368.3,442.3" fill="#3cbe14"/>
<polygon points="368.3,402.3 381.7,404.5 388.4,413.4 391.7,424.5 390.6,437.9 386.1,446.8 379.5,444.5 368.3,440.1" fill="#0aaa1e"/>
<polygon points="390.6,373.3 405.0,373.3 408.4,388.9 413.9,397.8 419.5,403.4 436.2,402.3 440.7,407.8 442.9,416.7 448.4,427.8 447.3,436.8 439.5,437.4 435.5,429.0 431.8,425.6 419.5,425.6 416.2,416.7 413.9,406.7 406.2,400.0 398.4,393.4 392.8,386.7" fill="#78d20f"/>
<polygon points="392.4,373.3 403.5,373.3 407.3,390.0 412.8,398.9 419.1,404.9 435.1,403.8 439.1,408.9 441.3,417.8 446.7,427.8 445.8,435.2 440.4,435.6 437.3,427.8 433.3,423.8 420.6,423.8 418.0,415.6 415.7,406.7 407.3,398.9 399.5,392.2 394.6,386.2" fill="#3cbe14"/>
<polygon points="393.9,373.3 401.7,373.3 405.0,388.9 410.6,397.8 413.9,402.3 411.7,402.3 403.9,395.6 397.3,388.9" fill="#0aaa1e"/>
<polygon points="419.5,411.2 432.9,411.2 437.3,416.7 438.4,422.3 422.8,422.3 419.5,416.7" fill="#0aaa1e"/>
<polygon points="420.6,404.9 433.3,404.9 434.0,410.0 420.6,410.7" fill="#bee90a"/>
<polygon points="411.7,373.3 413.3,388.9 416.2,395.6 420.6,400.0 435.1,401.1 439.5,404.5 441.8,413.4 446.2,418.9 448.4,426.7 451.8,417.8 470.7,416.7 472.9,424.5 475.1,420.1 481.8,418.9 484.1,424.5 486.3,433.4 489.6,444.5 495.2,449.0 500.7,446.8 505.2,441.2 506.3,431.2 508.5,427.8 513.0,432.3 518.5,432.3 521.9,425.6 531.7,422.3 531.7,373.3" fill="#78d20f"/>
<polygon points="413.3,373.3 414.6,388.9 417.3,395.1 421.3,398.9 435.1,400.0 440.0,403.4 442.2,411.2 446.7,415.6 470.7,414.9 472.9,421.2 475.1,417.8 481.8,416.7 484.5,422.3 486.7,432.3 490.3,442.3 495.2,447.2 500.1,445.0 504.1,440.1 505.2,430.1 508.5,425.6 513.0,430.7 518.5,430.7 521.4,424.5 531.7,420.7 531.7,373.3" fill="#3cbe14"/>
<polygon points="414.4,373.3 415.7,388.9 418.2,394.7 421.7,398.0 435.1,399.1 440.2,401.8 442.2,408.9 446.7,412.9 470.7,412.5 472.9,416.7 476.3,415.2 481.8,414.5 484.9,418.9 486.9,430.1 490.7,440.1 495.2,445.7 499.6,443.9 503.2,439.0 504.5,427.8 508.5,424.1 513.0,429.4 518.5,429.4 521.0,423.0 531.7,419.6 531.7,373.3" fill="#0aaa1e"/>
<polygon points="415.3,373.3 416.6,388.9 418.8,394.5 422.2,397.4 435.1,398.5 439.8,400.9 442.0,407.8 446.4,410.7 470.7,410.3 472.9,413.4 481.8,412.9 485.2,415.6 486.7,424.5 490.7,438.3 495.2,444.5 499.6,442.8 502.5,438.3 504.1,424.5 508.5,423.2 513.0,428.5 518.5,428.5 520.8,421.8 531.7,418.7 531.7,373.3" fill="#0a8255"/>
<polygon points="416.2,373.3 417.3,388.9 419.5,394.5 422.8,396.7 435.1,397.8 439.5,400.0 441.8,406.7 446.2,408.9 470.7,408.5 472.9,411.2 481.8,411.2 485.2,413.4 486.3,420.1 495.2,422.3 499.6,420.1 504.1,416.7 508.5,422.3 513.0,427.8 518.5,427.8 520.8,421.2 531.7,417.8 531.7,373.3" fill="#055a8c"/>
<polygon points="486.3,436.8 491.8,434.5 499.6,435.6 503.0,439.0 499.6,443.4 495.2,445.7 490.7,443.4 487.4,440.1" fill="#055a8c"/>
<polygon points="456.2,373.3 466.2,373.3 466.2,383.3 456.2,383.3" fill="#0000ff"/>
</g>
<g clip-path="url(#t19)">
<rect x="524.0" y="380.0" width="151.0" height="111.0" fill="#bee90a"/>
<polygon points="517.3,368.9 680.7,368.9 680.7,496.6 626.8,496.6 626.4,446.8 624.1,435.6 619.7,427.8 615.2,427.8 611.9,424.5 607.5,423.4 604.1,427.8 600.8,420.1 599.9,415.8 595.9,419.4 593.7,425.4 591.2,429.0 587.6,425.4 584.1,420.5 581.6,415.8 579.4,412.3 578.1,399.1 576.3,400.0 572.3,405.1 569.8,408.7 565.2,410.5 555.6,411.2 548.5,410.5 546.7,407.6 546.0,400.5 544.9,394.5 541.4,393.4 535.4,395.1 531.8,396.9 530.9,402.7 531.3,408.7 533.1,413.4 535.4,415.8 537.8,419.4 539.6,424.1 540.2,429.0 537.8,430.7 512.9,430.7 512.9,368.9" fill="#78d20f" stroke="#78d20f" stroke-width="8.01" stroke-linejoin="round"/>
<polygon points="517.3,368.9 680.7,368.9 680.7,496.6 626.8,496.6 626.4,446.8 624.1,435.6 619.7,427.8 615.2,427.8 611.9,424.5 607.5,423.4 604.1,427.8 600.8,420.1 599.9,415.8 595.9,419.4 593.7,425.4 591.2,429.0 587.6,425.4 584.1,420.5 581.6,415.8 579.4,412.3 578.1,399.1 576.3,400.0 572.3,405.1 569.8,408.7 565.2,410.5 555.6,411.2 548.5,410.5 546.7,407.6 546.0,400.5 544.9,394.5 541.4,393.4 535.4,395.1 531.8,396.9 530.9,402.7 531.3,408.7 533.1,413.4 535.4,415.8 537.8,419.4 539.6,424.1 540.2,429.0 537.8,430.7 512.9,430.7 512.9,368.9" fill="#3cbe14" stroke="#3cbe14" stroke-width="6.01" stroke-linejoin="round"/>
<polygon points="517.3,368.9 680.7,368.9 680.7,496.6 626.8,496.6 626.4,446.8 624.1,435.6 619.7,427.8 615.2,427.8 611.9,424.5 607.5,423.4 604.1,427.8 600.8,420.1 599.9,415.8 595.9,419.4 593.7,425.4 591.2,429.0 587.6,425.4 584.1,420.5 581.6,415.8 579.4,412.3 578.1,399.1 576.3,400.0 572.3,405.1 569.8,408.7 565.2,410.5 555.6,411.2 548.5,410.5 546.7,407.6 546.0,400.5 544.9,394.5 541.4,393.4 535.4,395.1 531.8,396.9 530.9,402.7 531.3,408.7 533.1,413.4 535.4,415.8 537.8,419.4 539.6,424.1 540.2,429.0 537.8,430.7 512.9,430.7 512.9,368.9" fill="#0aaa1e" stroke="#0aaa1e" stroke-width="4.01" stroke-linejoin="round"/>
<polygon points="517.3,368.9 680.7,368.9 680.7,496.6 626.8,496.6 626.4,446.8 624.1,435.6 619.7,427.8 615.2,427.8 611.9,424.5 607.5,423.4 604.1,427.8 600.8,420.1 599.9,415.8 595.9,419.4 593.7,425.4 591.2,429.0 587.6,425.4 584.1,420.5 581.6,415.8 579.4,412.3 578.1,399.1 576.3,400.0 572.3,405.1 569.8,408.7 565.2,410.5 555.6,411.2 548.5,410.5 546.7,407.6 546.0,400.5 544.9,394.5 541.4,393.4 535.4,395.1 531.8,396.9 530.9,402.7 531.3,408.7 533.1,413.4 535.4,415.8 537.8,419.4 539.6,424.1 540.2,429.0 537.8,430.7 512.9,430.7 512.9,368.9" fill="#0a8255" stroke="#0a8255" stroke-width="2.00" stroke-linejoin="round"/>
<polygon points="517.3,368.9 680.7,368.9 680.7,496.6 626.8,496.6 626.4,446.8 624.1,435.6 619.7,427.8 615.2,427.8 611.9,424.5 607.5,423.4 604.1,427.8 600.8,420.1 599.9,415.8 595.9,419.4 593.7,425.4 591.2,429.0 587.6,425.4 584.1,420.5 581.6,415.8 579.4,412.3 578.1,399.1 576.3,400.0 572.3,405.1 569.8,408.7 565.2,410.5 555.6,411.2 548.5,410.5 546.7,407.6 546.0,400.5 544.9,394.5 541.4,393.4 535.4,395.1 531.8,396.9 530.9,402.7 531.3,408.7 533.1,413.4 535.4,415.8 537.8,419.4 539.6,424.1 540.2,429.0 537.8,430.7 512.9,430.7 512.9,368.9" fill="#055a8c"/>
<polygon points="557.4,416.7 571.2,415.2 572.5,424.5 568.1,437.9 562.3,446.8 559.6,435.6" fill="#3cbe14"/>
<polygon points="550.3,427.8 553.6,425.6 557.4,427.8 558.7,433.4 557.4,444.5 554.7,449.4 552.0,446.8 549.8,438.3" fill="#78d20f" stroke="#78d20f" stroke-width="10.68" stroke-linejoin="round"/>
<polygon points="550.3,427.8 553.6,425.6 557.4,427.8 558.7,433.4 557.4,444.5 554.7,449.4 552.0,446.8 549.8,438.3" fill="#3cbe14" stroke="#3cbe14" stroke-width="8.01" stroke-linejoin="round"/>
<polygon points="550.3,427.8 553.6,425.6 557.4,427.8 558.7,433.4 557.4,444.5 554.7,449.4 552.0,446.8 549.8,438.3" fill="#0aaa1e" stroke="#0aaa1e" stroke-width="5.34" stroke-linejoin="round"/>
<polygon points="550.3,427.8 553.6,425.6 557.4,427.8 558.7,433.4 557.4,444.5 554.7,449.4 552.0,446.8 549.8,438.3" fill="#0a8255" stroke="#0a8255" stroke-width="2.67" stroke-linejoin="round"/>
<polygon points="550.3,427.8 553.6,425.6 557.4,427.8 558.7,433.4 557.4,444.5 554.7,449.4 552.0,446.8 549.8,438.3" fill="#055a8c"/>
<polygon points="537.8,407.8 542.9,406.9 544.5,413.4 543.6,420.5 540.0,418.9" fill="#f5fa0a"/>
<polygon points="566.3,368.9 680.7,368.9 680.7,393.4 654.2,396.7 650.9,394.5 647.5,400.0 644.2,403.4 639.7,398.9 635.3,400.0 631.9,393.4 630.4,386.7 628.2,387.8 627.5,400.0 623.0,401.1 621.9,397.8 617.5,403.4 613.0,401.1 609.7,395.6 608.6,391.1 601.9,390.0 597.4,390.0 590.8,394.5 579.6,394.5 576.3,388.9 574.7,382.2 571.8,368.9" fill="#0523cd" stroke="#0523cd" stroke-width="8.90" stroke-linejoin="round"/>
<polygon points="566.3,368.9 680.7,368.9 680.7,393.4 654.2,396.7 650.9,394.5 647.5,400.0 644.2,403.4 639.7,398.9 635.3,400.0 631.9,393.4 630.4,386.7 628.2,387.8 627.5,400.0 623.0,401.1 621.9,397.8 617.5,403.4 613.0,401.1 609.7,395.6 608.6,391.1 601.9,390.0 597.4,390.0 590.8,394.5 579.6,394.5 576.3,388.9 574.7,382.2 571.8,368.9" fill="#0000ff" stroke="#0000ff" stroke-width="4.45" stroke-linejoin="round"/>
<polygon points="566.3,368.9 680.7,368.9 680.7,393.4 654.2,396.7 650.9,394.5 647.5,400.0 644.2,403.4 639.7,398.9 635.3,400.0 631.9,393.4 630.4,386.7 628.2,387.8 627.5,400.0 623.0,401.1 621.9,397.8 617.5,403.4 613.0,401.1 609.7,395.6 608.6,391.1 601.9,390.0 597.4,390.0 590.8,394.5 579.6,394.5 576.3,388.9 574.7,382.2 571.8,368.9" fill="#4141fa"/>
<polygon points="627.0,496.6 627.0,457.0 628.8,443.2 631.3,431.0 633.9,424.1 636.6,431.0 639.1,441.4 641.7,434.5 645.1,424.1 648.6,417.2 651.1,427.6 652.0,443.2 652.0,496.6" fill="#0523cd"/>
<polygon points="628.2,496.6 628.2,458.6 630.6,448.3 633.1,437.9 635.3,444.8 637.5,451.7 640.8,457.0 641.7,496.6" fill="#0000ff"/>
<polygon points="646.8,496.6 646.8,446.8 648.2,440.1 649.5,437.9 650.9,446.8 651.5,469.0 651.5,496.6" fill="#0000ff"/>
<polygon points="630.4,496.6 630.6,469.0 632.2,458.6 634.8,455.2 637.5,460.3 639.9,457.0 641.7,469.0 641.7,496.6" fill="#4141fa"/>
<polygon points="635.7,496.6 635.9,464.6 636.6,462.3 637.3,464.6 637.5,496.6" fill="#0000ff"/>
<polygon points="652.0,496.6 652.2,446.8 653.1,424.5 657.5,413.4 657.5,496.6" fill="#055a8c"/>
</g>
<g clip-path="url(#t20)">
<rect x="375.0" y="255.0" width="151.0" height="111.0" fill="#78d20f"/>
<polygon points="368.3,248.3 428.4,248.3 428.4,265.0 417.3,267.2 416.2,286.2 392.8,288.4 391.7,298.4 368.3,299.5" fill="#bee90a"/>
<polygon points="389.5,263.5 393.9,268.8 398.4,265.0 397.3,261.7" fill="#78d20f"/>
<polygon points="462.9,270.6 468.5,269.5 470.7,275.0 469.6,281.7 464.0,282.8 462.2,277.3" fill="#bee90a"/>
<polygon points="449.6,289.5 454.0,288.4 455.6,295.1 454.0,304.0 449.6,306.2 448.0,297.3" fill="#bee90a"/>
<polygon points="430.6,308.4 436.2,307.3 438.4,312.9 436.2,317.3 431.8,316.2" fill="#bee90a"/>
<polygon points="415.1,328.4 419.5,321.8 428.4,319.1 433.3,321.3 441.8,319.1 445.1,308.4 446.7,299.5 451.8,296.2 457.8,292.8 457.8,332.9 441.8,335.1 419.5,335.1" fill="#3cbe14"/>
<polygon points="476.3,248.3 486.3,248.3 487.4,268.4 476.3,268.4" fill="#3cbe14"/>
<polygon points="495.2,248.3 531.7,248.3 531.7,277.3 499.6,278.4 497.4,266.1" fill="#3cbe14"/>
<polygon points="499.0,248.3 531.7,248.3 531.7,276.1 505.2,277.3 501.9,283.9 500.5,277.3 499.6,266.1" fill="#0aaa1e"/>
<polygon points="456.2,371.6 456.2,344.0 457.8,295.1 464.0,288.4 471.8,283.9 472.9,276.1 476.3,271.7 484.1,267.9 485.6,277.3 484.5,287.3 481.4,297.3 479.6,308.4 479.2,319.5 490.7,321.8 498.5,319.5 500.7,299.5 501.9,283.9 505.2,277.3 531.7,275.5 531.7,371.6" fill="#3cbe14" stroke="#3cbe14" stroke-width="8.01" stroke-linejoin="round"/>
<polygon points="456.2,371.6 456.2,344.0 457.8,295.1 464.0,288.4 471.8,283.9 472.9,276.1 476.3,271.7 484.1,267.9 485.6,277.3 484.5,287.3 481.4,297.3 479.6,308.4 479.2,319.5 490.7,321.8 498.5,319.5 500.7,299.5 501.9,283.9 505.2,277.3 531.7,275.5 531.7,371.6" fill="#0aaa1e" stroke="#0aaa1e" stroke-width="4.01" stroke-linejoin="round"/>
<polygon points="456.2,371.6 456.2,344.0 457.8,295.1 464.0,288.4 471.8,283.9 472.9,276.1 476.3,271.7 484.1,267.9 485.6,277.3 484.5,287.3 481.4,297.3 479.6,308.4 479.2,319.5 490.7,321.8 498.5,319.5 500.7,299.5 501.9,283.9 505.2,277.3 531.7,275.5 531.7,371.6" fill="#0a8255"/>
<polygon points="406.2,371.6 407.3,349.6 411.7,342.9 419.5,337.3 427.3,335.1 429.5,327.3 434.0,325.1 439.5,329.6 441.8,337.3 448.4,341.8 456.2,344.0 456.2,371.6" fill="#3cbe14" stroke="#3cbe14" stroke-width="8.01" stroke-linejoin="round"/>
<polygon points="406.2,371.6 407.3,349.6 411.7,342.9 419.5,337.3 427.3,335.1 429.5,327.3 434.0,325.1 439.5,329.6 441.8,337.3 448.4,341.8 456.2,344.0 456.2,371.6" fill="#0aaa1e" stroke="#0aaa1e" stroke-width="4.01" stroke-linejoin="round"/>
<polygon points="406.2,371.6 407.3,349.6 411.7,342.9 419.5,337.3 427.3,335.1 429.5,327.3 434.0,325.1 439.5,329.6 441.8,337.3 448.4,341.8 456.2,344.0 456.2,371.6" fill="#0a8255"/>
<polygon points="480.0,303.5 486.3,302.2 489.6,293.9 494.1,288.4 498.7,279.9 500.1,299.5 498.1,319.1 490.7,321.1 480.0,319.1" fill="#0aaa1e"/>
<polygon points="449.1,310.6 450.7,307.3 452.2,310.6 452.4,328.4 451.1,337.3 449.6,328.4" fill="#0aaa1e" stroke="#0aaa1e" stroke-width="2.23" stroke-linejoin="round"/>
<polygon points="449.1,310.6 450.7,307.3 452.2,310.6 452.4,328.4 451.1,337.3 449.6,328.4" fill="#0a8255"/>
<polygon points="458.5,330.7 458.5,295.1 460.7,292.8 470.7,291.7 472.9,277.3 476.3,272.8 480.7,269.5 483.6,269.5 484.1,277.3 482.9,286.2 479.2,297.3 477.8,308.4 477.4,321.8 474.0,326.2 472.9,331.1 459.1,331.8" fill="#055a8c"/>
<polygon points="487.4,271.7 495.6,271.2 496.3,279.5 492.5,287.9 488.5,292.4 486.3,299.5 481.8,300.6 483.2,295.1 484.9,291.7 486.3,283.9" fill="#78d20f" stroke="#78d20f" stroke-width="1.78" stroke-linejoin="round"/>
<polygon points="487.4,271.7 495.6,271.2 496.3,279.5 492.5,287.9 488.5,292.4 486.3,299.5 481.8,300.6 483.2,295.1 484.9,291.7 486.3,283.9" fill="#bee90a"/>
<polygon points="506.3,288.4 521.9,288.4 531.7,290.6 531.7,315.1 519.7,316.2 508.5,315.1 505.9,306.2" fill="#055a8c"/>
<polygon points="489.6,326.2 503.0,324.0 504.1,341.8 505.2,352.9 531.7,354.0 531.7,371.6 408.4,371.6 408.4,350.7 412.8,344.0 419.5,339.6 428.4,337.3 439.5,339.6 441.8,348.5 448.4,350.7 450.7,344.0 456.2,348.5 486.3,344.0 488.5,335.1" fill="#055a8c"/>
<polygon points="429.5,335.1 432.9,330.7 437.3,331.8 439.5,339.6 438.4,371.6 429.5,371.6 428.4,348.5" fill="#0523cd"/>
<polygon points="458.5,357.4 461.8,348.5 465.1,347.4 467.4,352.9 468.0,371.6 457.8,371.6" fill="#0523cd"/>
<polygon points="460.7,355.1 464.0,352.9 465.8,359.6 465.1,371.6 460.7,371.6" fill="#0000ff"/>
<polygon points="449.8,311.8 450.9,309.5 452.0,311.8 452.0,321.8 450.9,324.0 449.8,321.8" fill="#0523cd"/>
<polygon points="508.5,337.3 515.2,337.3 515.2,345.1 508.5,345.1" fill="#0aaa1e"/>
<polygon points="363.9,305.1 391.7,304.4 394.6,309.5 397.3,315.1 399.0,321.8 397.3,328.4 396.1,335.1 397.3,344.0 396.1,352.9 395.0,371.6 363.9,371.6" fill="#3cbe14" stroke="#3cbe14" stroke-width="4.01" stroke-linejoin="round"/>
<polygon points="363.9,305.1 391.7,304.4 394.6,309.5 397.3,315.1 399.0,321.8 397.3,328.4 396.1,335.1 397.3,344.0 396.1,352.9 395.0,371.6 363.9,371.6" fill="#0aaa1e"/>
<polygon points="413.9,308.4 417.7,307.5 418.4,312.9 416.2,321.8 411.7,330.7 408.4,339.6 406.2,348.5 403.9,357.4 402.2,371.6 396.1,371.6 397.3,355.1 399.9,344.0 403.9,330.7 408.4,319.5 410.6,311.8" fill="#78d20f" stroke="#78d20f" stroke-width="3.12" stroke-linejoin="round"/>
<polygon points="413.9,308.4 417.7,307.5 418.4,312.9 416.2,321.8 411.7,330.7 408.4,339.6 406.2,348.5 403.9,357.4 402.2,371.6 396.1,371.6 397.3,355.1 399.9,344.0 403.9,330.7 408.4,319.5 410.6,311.8" fill="#bee90a"/>
<polygon points="397.3,324.0 402.8,329.6 397.3,334.0" fill="#055a8c"/>
</g>
<g clip-path="url(#t21)">
<rect x="375.0" y="355.0" width="151.0" height="36.0" fill="#bee90a"/>
<polygon points="368.3,348.3 391.7,348.3 391.7,367.9 368.3,368.4" fill="#0aaa1e"/>
<polygon points="363.9,348.3 390.6,348.3 390.6,365.7 363.9,366.1" fill="#78d20f" stroke="#78d20f" stroke-width="5.34" stroke-linejoin="round"/>
<polygon points="363.9,348.3 390.6,348.3 390.6,365.7 363.9,366.1" fill="#3cbe14" stroke="#3cbe14" stroke-width="2.67" stroke-linejoin="round"/>
<polygon points="363.9,348.3 390.6,348.3 390.6,365.7 363.9,366.1" fill="#0aaa1e"/>
<polygon points="392.4,348.3 394.6,348.3 396.1,367.9 399.0,381.3 402.2,394.6 399.5,394.6 395.5,379.0 391.9,367.9" fill="#78d20f" stroke="#78d20f" stroke-width="4.45" stroke-linejoin="round"/>
<polygon points="392.4,348.3 394.6,348.3 396.1,367.9 399.0,381.3 402.2,394.6 399.5,394.6 395.5,379.0 391.9,367.9" fill="#3cbe14" stroke="#3cbe14" stroke-width="2.23" stroke-linejoin="round"/>
<polygon points="392.4,348.3 394.6,348.3 396.1,367.9 399.0,381.3 402.2,394.6 399.5,394.6 395.5,379.0 391.9,367.9" fill="#0aaa1e"/>
<polygon points="409.9,348.3 531.7,348.3 531.7,394.6 422.8,394.6 419.1,382.4 413.9,375.7 410.2,367.9" fill="#78d20f" stroke="#78d20f" stroke-width="7.12" stroke-linejoin="round"/>
<polygon points="409.9,348.3 531.7,348.3 531.7,394.6 422.8,394.6 419.1,382.4 413.9,375.7 410.2,367.9" fill="#3cbe14" stroke="#3cbe14" stroke-width="5.34" stroke-linejoin="round"/>
<polygon points="409.9,348.3 531.7,348.3 531.7,394.6 422.8,394.6 419.1,382.4 413.9,375.7 410.2,367.9" fill="#0aaa1e" stroke="#0aaa1e" stroke-width="3.56" stroke-linejoin="round"/>
<polygon points="409.9,348.3 531.7,348.3 531.7,394.6 422.8,394.6 419.1,382.4 413.9,375.7 410.2,367.9" fill="#0a8255" stroke="#0a8255" stroke-width="1.78" stroke-linejoin="round"/>
<polygon points="409.9,348.3 531.7,348.3 531.7,394.6 422.8,394.6 419.1,382.4 413.9,375.7 410.2,367.9" fill="#055a8c"/>
<polygon points="399.0,348.3 405.7,348.3 407.3,365.7 412.4,381.3 415.5,394.6 410.6,394.6 407.3,381.3 402.8,365.7" fill="#bee90a"/>
<polygon points="428.4,348.3 438.4,348.3 438.4,363.5 436.2,368.4 430.6,368.4 428.4,363.5" fill="#0523cd"/>
<polygon points="455.6,359.0 458.5,348.3 462.9,347.9 466.2,348.3 468.0,359.0 467.4,379.0 464.0,383.5 458.5,383.5 455.6,376.8" fill="#0523cd"/>
<polygon points="457.8,361.2 460.7,348.3 463.6,348.3 466.2,360.1 465.8,373.5 462.9,376.8 459.1,375.7" fill="#0000ff"/>
<polygon points="459.6,362.3 462.2,357.9 464.9,360.1 465.1,366.8 463.6,371.2 460.7,370.6" fill="#4141fa"/>
</g>
<g clip-path="url(#t22)">
<polygon points="136.2,403.9 139.5,406.2 139.5,421.8 136.2,422.9" fill="#3cbe14"/>
</g>
<g clip-path="url(#t23)">
<polygon points="525.6,328.5 529.5,372.0 530.0,380.0 519.0,380.0 520.0,370.0 522.0,347.0" fill="#055a8c"/>
</g>
</g>
<g id="contours" clip-path="url(#plot)" fill="none" stroke="#000" stroke-width="1.15">
<path d="M393.7,316.4 Q398,332.9 393.7,349.4 Q389.4,332.9 393.7,316.4 Z" fill="#a5e00c"/>
<path d="M115.3,479.2 Q118.7,485.2 115.3,491.2 Q111.9,485.2 115.3,479.2 Z"/>
<path d="M213.0,476.7 Q217.6,484.5 213.0,492.3 Q208.4,484.5 213.0,476.7 Z"/>
<path d="M247.5,446.2 Q250.9,456.7 247.5,467.2 Q244.1,456.7 247.5,446.2 Z"/>
<path d="M265.3,487.4 Q267.5,492.6 265.3,497.8 Q263.1,492.6 265.3,487.4 Z"/>
<path d="M286.2,478.3 Q291.1,488.6 286.2,498.9 Q281.3,488.6 286.2,478.3 Z"/>
<path d="M354.2,490.7 L353.9,480.9 L356.0,472.9 L359.6,469.4 L364.0,468.5 L366.7,457.8 L368.5,454.2 L371.2,455.1 L372.0,457.8 L372.6,467.6 L373.8,468.5 L375.6,464.9 L377.4,462.3 L380.1,462.3 L381.3,466.7 L381.3,473.8 L380.1,480.9 L378.3,483.6 L375.6,482.7 L372.9,481.8 L370.3,483.6 L368.5,486.3 L367.6,489.9 L366.4,485.4 L361.4,484.5 L357.8,483.6 L356.0,486.3 L355.1,490.7 Z"/>
<path d="M369.4,457.8 L370.3,456.0 L371.7,457.8 L371.7,466.7 L369.9,466.7 Z"/>
<path d="M388.1,450.7 L389.9,446.8 L391.6,448.0 L393.1,457.8 L393.4,472.0 L392.7,486.3 L391.6,491.6 L389.9,490.7 L388.4,482.7 L387.7,466.7 Z"/>
<path d="M390.2,450.7 L391.6,457.8 L392.0,472.0 L391.3,484.5 L390.6,472.0 L389.9,457.8 Z"/>
<path d="M402.3,475.6 L397.0,476.5 L393.4,475.6 L397.0,463.1 L400.5,459.6 L402.3,456.0 L405.0,454.2 L406.8,457.8 L408.5,455.1 L411.2,454.2 L413.0,459.6 L413.0,464.4"/>
<path d="M393.4,475.6 L395.2,480.9 L397.9,487.2 L399.6,491.6 L401.4,489.9 L402.3,486.3 L405.0,484.5 L411.2,485.4 L414.8,484.5 L415.7,490.7 L418.3,492.5 L429.0,492.5 L430.8,493.4 L431.7,496.1 L432.9,492.5 L434.0,486.3 L439.7,485.4 L446.8,485.4 L455.7,486.3 L458.4,491.6 L460.0,486.3"/>
<path d="M445.0,467.6 L446.8,463.1 L449.0,462.3 L450.4,466.7 L452.2,468.5 L453.9,463.1 L456.6,461.4 L457.9,466.7 L460.0,466.7"/>
<path d="M437.6,472.9 L445.0,472.0 L453.9,469.4 L460.0,471.2"/>
<path d="M437.6,476.5 L446.8,477.4 L455.7,474.7 L460.0,475.6"/>
<path d="M437.6,478.3 L446.8,478.8 L460.0,478.3"/>
<path d="M402.3,464.4 L437.6,464.4 L437.6,483.1 L402.3,483.1 Z"/>
<path d="M440.0,468.5 L445.3,468.5 L447.1,463.1 L448.9,462.3 L449.8,466.7 L451.6,468.5 L453.4,463.1 L456.0,461.4 L457.8,466.7 L459.2,468.5 L461.4,457.8 L463.1,454.2 L464.9,456.0 L466.7,466.7 L469.4,469.4 L472.0,471.2 L473.5,479.2 L472.9,484.5 L470.3,485.4 L465.8,485.4 L464.9,489.9 L463.1,492.5 L460.5,491.6 L458.7,487.2 L456.0,486.3 L440.0,485.9"/>
<path d="M440.0,475.6 L445.3,474.7 L450.7,472.9 L456.0,472.0 L458.7,474.7 L458.7,478.3 L456.0,480.1 L450.7,479.5 L445.3,478.3 L440.0,477.7"/>
<path d="M463.9,471.1 Q465.9,475.6 463.9,480.1 Q461.8,475.6 463.9,471.1 Z"/>
<path d="M467.6,473.7 Q469.8,476.9 467.6,480.1 Q465.4,476.9 467.6,473.7 Z"/>
<path d="M471.2,495.2 L470.6,486.3 L472.0,480.1 L474.7,477.4 L481.8,476.5 L483.6,471.2 L485.4,469.4 L487.2,472.9 L488.1,480.9 L489.0,491.6 L487.7,497.0 L485.9,493.4 L484.5,491.6 L475.6,491.6 L472.9,493.4 Z"/>
<path d="M490.7,493.4 L491.6,486.3 L493.4,480.1 L495.2,480.1 L495.5,486.3 L494.3,493.4 L492.5,497.9 Z"/>
<path d="M503.2,463.1 L503.7,450.7 L505.5,442.7 L507.7,440.0 L512.1,440.0 L513.4,445.3 L513.9,453.4 L516.6,456.0 L519.2,460.5 L519.8,468.5 L518.3,475.6 L516.6,480.9 L515.7,489.0 L513.0,491.6 L510.3,493.4 L509.4,497.9 L507.7,498.8 L505.9,493.4 L504.5,482.7 L503.2,472.0 Z"/>
<path d="M507.3,445.3 L508.5,442.1 L510.9,442.1 L512.3,445.3 L511.9,449.8 L510.3,451.6 L508.5,450.7 Z"/>
<path d="M508.5,461.4 L510.3,456.9 L513.0,456.9 L514.8,461.4 L515.1,472.0 L513.9,479.2 L512.1,481.8 L509.8,480.1 L508.5,472.0 Z"/>
<path d="M516.6,486.3 L517.4,480.9 L520.1,478.3 L522.3,480.9 L522.6,486.3 L521.0,490.7 L518.3,491.3 Z"/>
<path d="M540.6,493.4 L541.1,486.3 L543.3,480.1 L545.9,477.4 L547.7,480.1 L547.7,486.3 L545.9,492.5 L543.3,496.1 L541.1,496.6 Z"/>
<path d="M548.6,475.6 L549.0,466.7 L550.7,462.3 L552.5,463.1 L553.2,470.3 L552.5,478.3 L550.7,482.7 L549.1,480.9 Z"/>
<path d="M507.7,440.0 L508.5,435.5 L510.3,433.8 L511.8,435.5 L512.1,440.0"/>
<path d="M568.5,465.0 L570.3,453.8 L571.2,446.6 L568.5,443.1 L566.7,437.7 L568.1,423.5 L571.2,416.4 L574.7,407.5 L576.5,401.2 L578.3,399.5 L580.1,403.9 L580.6,412.8 L580.1,423.5 L581.8,433.3 L583.6,437.7 L592.5,438.6 L594.3,441.3 L595.2,448.4 L594.3,457.3 L592.5,461.2 L580.1,461.2 L579.5,465.3 L578.8,461.2 L578.3,457.3 L577.7,448.4 L575.6,445.7 L572.0,446.6"/>
<path d="M575.6,405.7 L576.5,412.8 L575.6,425.3 L576.5,434.2 L578.3,432.4 L577.9,412.8 L577.4,403.9 Z"/>
<path d="M588.1,448.4 L589.0,445.7 L590.7,445.7 L591.6,448.4 L591.3,452.9 L589.9,454.6 L588.4,452.9 Z"/>
<path d="M597.3,427.0 L597.9,419.9 L599.6,416.4 L601.4,418.1 L602.3,425.3 L603.7,430.6 L605.0,425.3 L606.2,421.7 L607.7,425.3 L607.3,435.9 L606.2,444.9 L604.5,450.2 L602.3,445.7 L600.5,437.7 L598.8,434.2 Z"/>
<path d="M607.7,421.7 L608.5,417.3 L610.3,415.5 L612.1,417.3 L613.0,424.4 L613.4,434.2 L612.6,444.9 L610.9,452.0 L609.1,450.2 L607.7,441.3 L607.3,430.6 Z"/>
<path d="M610.3,433.3 L610.9,429.2 L611.9,428.8 L612.6,433.3 L612.1,438.1 L610.9,438.6 Z"/>
<path d="M622.3,448.4 L622.8,442.2 L624.6,438.6 L626.4,439.5 L627.2,446.6 L626.9,455.5 L625.5,460.0 L623.7,460.0 L622.6,455.5 Z"/>
<path d="M631.7,465.0 L632.6,457.3 L635.3,446.6 L637.9,440.4 L639.3,441.3 L638.8,448.4 L637.0,457.3 L634.4,465.0 L632.9,468.9 Z"/>
<path d="M641.5,446.6 L641.8,435.9 L643.6,427.9 L645.4,426.2 L646.8,430.6 L647.2,441.3 L645.9,450.2 L644.2,452.9 L642.4,451.1 Z"/>
<path d="M644.2,412.8 L645.0,403.9 L646.8,400.0 L648.2,402.1 L648.6,411.0 L647.7,419.9 L645.9,422.6 L644.7,419.9 Z"/>
<path d="M540.9,496.6 L541.4,487.7 L543.6,480.6 L546.2,477.9 L548.0,479.7 L548.0,486.8 L546.2,493.1 L543.6,496.6 L541.8,497.5 Z"/>
<path d="M548.9,477.0 L549.3,468.1 L551.0,462.8 L552.8,462.8 L553.5,469.9 L552.8,478.8 L551.6,483.3 L549.8,482.4 Z"/>
<path d="M566.7,477.0 L567.1,464.6 L569.4,452.1 L572.0,445.9 L574.7,445.0 L576.5,450.3 L575.6,462.8 L573.8,475.3 L571.7,483.3 L569.4,484.2 L567.6,481.5 Z"/>
<ellipse cx="570.3" cy="469.0" rx="1.0" ry="1.0"/>
</g>
<g clip-path="url(#plot)">
<polygon fill="#000" points="567.6,508.6 571.2,504.6 577.4,502.9 584.5,502.3 593.4,500.5 597.9,498.8 601.4,500.5 614.8,499.8 618.3,496.6 621.9,494.0 626.3,493.4 630.8,489.5 633.5,490.9 637.9,486.8 642.4,481.5 645.0,480.6 648.6,485.1 653.9,488.6 658.0,490.4 658.0,509.0 567.0,509.0"/>
<text x="421.8" y="0" transform="translate(0,480.2) scale(1,1.22)" font-size="14.6px" font-weight="bold" text-anchor="middle" style="stroke-width:0.7px">.001</text>
</g>

<rect x="79" y="96" width="579" height="413" fill="none" stroke="#000" stroke-width="2" shape-rendering="crispEdges"/>
<rect x="211.5" y="95.5" width="446" height="25" fill="#fff" stroke="#000" stroke-width="1" shape-rendering="crispEdges"/>
<text x="215" y="112.8" font-size="17px" textLength="439" lengthAdjust="spacingAndGlyphs">Cloud + Ice water mixing ratio Contours: .001 to .1 by .099</text>
<line x1="79" x2="97" y1="508.8" y2="508.8" stroke="#000" stroke-width="2" shape-rendering="crispEdges"/>
<text x="68.5" y="514.3" font-size="17.2px" text-anchor="end">0.0</text>
<line x1="79" x2="97" y1="470.6" y2="470.6" stroke="#000" stroke-width="2" shape-rendering="crispEdges"/>
<text x="68.5" y="476.1" font-size="17.2px" text-anchor="end">1.0</text>
<line x1="79" x2="97" y1="432.3" y2="432.3" stroke="#000" stroke-width="2" shape-rendering="crispEdges"/>
<text x="68.5" y="437.8" font-size="17.2px" text-anchor="end">2.0</text>
<line x1="79" x2="97" y1="394.1" y2="394.1" stroke="#000" stroke-width="2" shape-rendering="crispEdges"/>
<text x="68.5" y="399.6" font-size="17.2px" text-anchor="end">3.0</text>
<line x1="79" x2="97" y1="355.8" y2="355.8" stroke="#000" stroke-width="2" shape-rendering="crispEdges"/>
<text x="68.5" y="361.3" font-size="17.2px" text-anchor="end">4.0</text>
<line x1="79" x2="97" y1="317.6" y2="317.6" stroke="#000" stroke-width="2" shape-rendering="crispEdges"/>
<text x="68.5" y="323.1" font-size="17.2px" text-anchor="end">5.0</text>
<line x1="79" x2="97" y1="279.3" y2="279.3" stroke="#000" stroke-width="2" shape-rendering="crispEdges"/>
<text x="68.5" y="284.8" font-size="17.2px" text-anchor="end">6.0</text>
<line x1="79" x2="97" y1="241.1" y2="241.1" stroke="#000" stroke-width="2" shape-rendering="crispEdges"/>
<text x="68.5" y="246.6" font-size="17.2px" text-anchor="end">7.0</text>
<line x1="79" x2="97" y1="202.8" y2="202.8" stroke="#000" stroke-width="2" shape-rendering="crispEdges"/>
<text x="68.5" y="208.3" font-size="17.2px" text-anchor="end">8.0</text>
<line x1="79" x2="97" y1="164.6" y2="164.6" stroke="#000" stroke-width="2" shape-rendering="crispEdges"/>
<text x="68.5" y="170.1" font-size="17.2px" text-anchor="end">9.0</text>
<line x1="79" x2="97" y1="126.3" y2="126.3" stroke="#000" stroke-width="2" shape-rendering="crispEdges"/>
<text x="68.5" y="131.8" font-size="17.2px" text-anchor="end">10.0</text>
<line x1="79.0" x2="79.0" y1="491" y2="508" stroke="#000" stroke-width="2" shape-rendering="crispEdges"/>
<text x="79.0" y="533.1" font-size="16.8px" text-anchor="middle">-20.1</text>
<line x1="131.6" x2="131.6" y1="491" y2="508" stroke="#000" stroke-width="2" shape-rendering="crispEdges"/>
<text x="131.6" y="533.1" font-size="16.8px" text-anchor="middle">-16.9</text>
<line x1="184.3" x2="184.3" y1="491" y2="508" stroke="#000" stroke-width="2" shape-rendering="crispEdges"/>
<text x="184.3" y="533.1" font-size="16.8px" text-anchor="middle">-13.8</text>
<line x1="236.9" x2="236.9" y1="491" y2="508" stroke="#000" stroke-width="2" shape-rendering="crispEdges"/>
<text x="236.9" y="533.1" font-size="16.8px" text-anchor="middle">-10.6</text>
<line x1="289.6" x2="289.6" y1="491" y2="508" stroke="#000" stroke-width="2" shape-rendering="crispEdges"/>
<text x="289.6" y="533.1" font-size="16.8px" text-anchor="middle">-7.4</text>
<line x1="342.2" x2="342.2" y1="491" y2="508" stroke="#000" stroke-width="2" shape-rendering="crispEdges"/>
<text x="342.2" y="533.1" font-size="16.8px" text-anchor="middle">-4.2</text>
<line x1="394.8" x2="394.8" y1="491" y2="508" stroke="#000" stroke-width="2" shape-rendering="crispEdges"/>
<text x="394.8" y="533.1" font-size="16.8px" text-anchor="middle">-1.1</text>
<line x1="447.5" x2="447.5" y1="491" y2="508" stroke="#000" stroke-width="2" shape-rendering="crispEdges"/>
<text x="447.5" y="533.1" font-size="16.8px" text-anchor="middle">2.1</text>
<line x1="500.1" x2="500.1" y1="491" y2="508" stroke="#000" stroke-width="2" shape-rendering="crispEdges"/>
<text x="500.1" y="533.1" font-size="16.8px" text-anchor="middle">5.3</text>
<line x1="552.8" x2="552.8" y1="491" y2="508" stroke="#000" stroke-width="2" shape-rendering="crispEdges"/>
<text x="552.8" y="533.1" font-size="16.8px" text-anchor="middle">8.4</text>
<line x1="605.4" x2="605.4" y1="491" y2="508" stroke="#000" stroke-width="2" shape-rendering="crispEdges"/>
<text x="605.4" y="533.1" font-size="16.8px" text-anchor="middle">11.6</text>
<line x1="658.0" x2="658.0" y1="491" y2="508" stroke="#000" stroke-width="2" shape-rendering="crispEdges"/>
<text x="658.0" y="533.1" font-size="16.8px" text-anchor="middle">14.8</text>
<text style="stroke-width:0.5px" x="80" y="12.3" font-size="15px" textLength="70.5" lengthAdjust="spacingAndGlyphs">W-E at 0S</text>
<text class="s" x="657" y="12" font-size="10.8px" text-anchor="end">Init: 2018-08-25_00:00:00</text>
<text class="s" x="657" y="24" font-size="10.8px" text-anchor="end">Valid: 2018-08-28_15:00:00</text>
<text class="s" x="82" y="59.2" font-size="10.8px" xml:space="preserve">Biomass burning Age Distribution Mode   (days)</text>
<text class="s" x="82" y="71.1" font-size="10.8px" xml:space="preserve">Cloud + Ice water mixing ratio   (g/kg)</text>
<text class="s" x="82" y="83" font-size="10.8px">Main</text>
<text class="s" x="657" y="91.9" font-size="9.7px" text-anchor="end">Cross-Section: (130,420) to (454,420)</text>
<text transform="translate(16,302.5) rotate(-90)" font-size="22.5px" text-anchor="middle">Height (km)</text>
<text x="368" y="563" font-size="22.5px" text-anchor="middle">longitude</text>
<text x="191.3" y="609.8" font-size="17.8px" textLength="355" lengthAdjust="spacingAndGlyphs" xml:space="preserve">Biomass burning Age Distribution Mode  (days)</text>
<rect x="170.00" y="617.5" width="23.35" height="20" fill="#ffffff" stroke="#000" stroke-width="1" shape-rendering="crispEdges"/>
<rect x="193.35" y="617.5" width="23.35" height="20" fill="#bebefa" stroke="#000" stroke-width="1" shape-rendering="crispEdges"/>
<rect x="216.71" y="617.5" width="23.35" height="20" fill="#7d7dfa" stroke="#000" stroke-width="1" shape-rendering="crispEdges"/>
<rect x="240.06" y="617.5" width="23.35" height="20" fill="#4141fa" stroke="#000" stroke-width="1" shape-rendering="crispEdges"/>
<rect x="263.41" y="617.5" width="23.35" height="20" fill="#0000ff" stroke="#000" stroke-width="1" shape-rendering="crispEdges"/>
<rect x="286.76" y="617.5" width="23.35" height="20" fill="#0523cd" stroke="#000" stroke-width="1" shape-rendering="crispEdges"/>
<rect x="310.12" y="617.5" width="23.35" height="20" fill="#055a8c" stroke="#000" stroke-width="1" shape-rendering="crispEdges"/>
<rect x="333.47" y="617.5" width="23.35" height="20" fill="#0a8255" stroke="#000" stroke-width="1" shape-rendering="crispEdges"/>
<rect x="356.82" y="617.5" width="23.35" height="20" fill="#0aaa1e" stroke="#000" stroke-width="1" shape-rendering="crispEdges"/>
<rect x="380.18" y="617.5" width="23.35" height="20" fill="#3cbe14" stroke="#000" stroke-width="1" shape-rendering="crispEdges"/>
<rect x="403.53" y="617.5" width="23.35" height="20" fill="#78d20f" stroke="#000" stroke-width="1" shape-rendering="crispEdges"/>
<rect x="426.88" y="617.5" width="23.35" height="20" fill="#bee90a" stroke="#000" stroke-width="1" shape-rendering="crispEdges"/>
<rect x="450.24" y="617.5" width="23.35" height="20" fill="#f5fa0a" stroke="#000" stroke-width="1" shape-rendering="crispEdges"/>
<rect x="473.59" y="617.5" width="23.35" height="20" fill="#ffc800" stroke="#000" stroke-width="1" shape-rendering="crispEdges"/>
<rect x="496.94" y="617.5" width="23.35" height="20" fill="#ff8200" stroke="#000" stroke-width="1" shape-rendering="crispEdges"/>
<rect x="520.29" y="617.5" width="23.35" height="20" fill="#ff4600" stroke="#000" stroke-width="1" shape-rendering="crispEdges"/>
<rect x="543.65" y="617.5" width="23.35" height="20" fill="#ff0a0a" stroke="#000" stroke-width="1" shape-rendering="crispEdges"/>
<text x="193.4" y="665" font-size="17.3px" text-anchor="middle" textLength="8.3" lengthAdjust="spacingAndGlyphs">0</text>
<text x="216.7" y="665" font-size="17.3px" text-anchor="middle" textLength="8.3" lengthAdjust="spacingAndGlyphs">1</text>
<text x="240.1" y="665" font-size="17.3px" text-anchor="middle" textLength="8.3" lengthAdjust="spacingAndGlyphs">2</text>
<text x="263.4" y="665" font-size="17.3px" text-anchor="middle" textLength="8.3" lengthAdjust="spacingAndGlyphs">3</text>
<text x="286.8" y="665" font-size="17.3px" text-anchor="middle" textLength="8.3" lengthAdjust="spacingAndGlyphs">4</text>
<text x="310.1" y="665" font-size="17.3px" text-anchor="middle" textLength="8.3" lengthAdjust="spacingAndGlyphs">5</text>
<text x="333.5" y="665" font-size="17.3px" text-anchor="middle" textLength="8.3" lengthAdjust="spacingAndGlyphs">6</text>
<text x="356.8" y="665" font-size="17.3px" text-anchor="middle" textLength="8.3" lengthAdjust="spacingAndGlyphs">7</text>
<text x="380.2" y="665" font-size="17.3px" text-anchor="middle" textLength="8.3" lengthAdjust="spacingAndGlyphs">8</text>
<text x="403.5" y="665" font-size="17.3px" text-anchor="middle" textLength="8.3" lengthAdjust="spacingAndGlyphs">9</text>
<text x="426.9" y="665" font-size="17.3px" text-anchor="middle" textLength="17.0" lengthAdjust="spacingAndGlyphs">10</text>
<text x="450.2" y="665" font-size="17.3px" text-anchor="middle" textLength="17.0" lengthAdjust="spacingAndGlyphs">11</text>
<text x="473.6" y="665" font-size="17.3px" text-anchor="middle" textLength="17.0" lengthAdjust="spacingAndGlyphs">12</text>
<text x="496.9" y="665" font-size="17.3px" text-anchor="middle" textLength="17.0" lengthAdjust="spacingAndGlyphs">13</text>
<text x="520.3" y="665" font-size="17.3px" text-anchor="middle" textLength="17.0" lengthAdjust="spacingAndGlyphs">14</text>
<text x="543.6" y="665" font-size="17.3px" text-anchor="middle" textLength="17.0" lengthAdjust="spacingAndGlyphs">15</text>
</svg></body></html>
